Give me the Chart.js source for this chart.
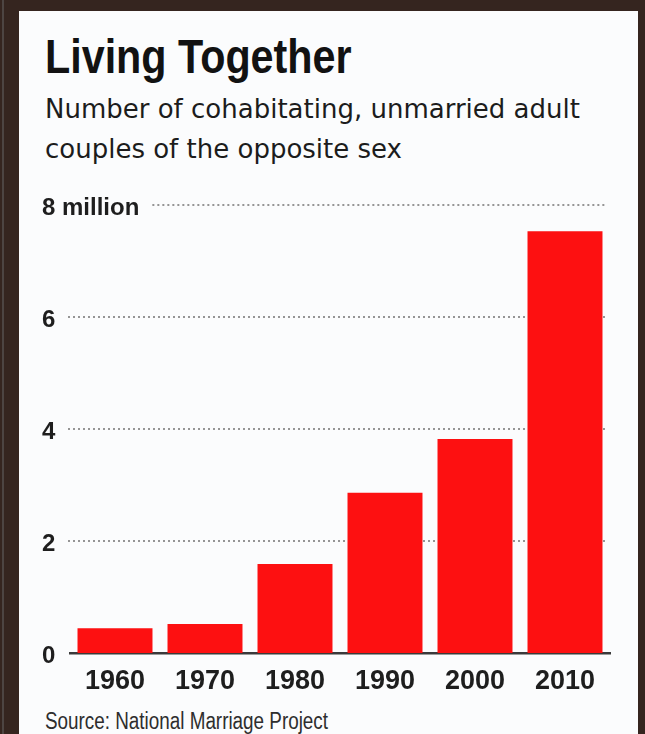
<!DOCTYPE html>
<html>
<head>
<meta charset="utf-8">
<script src="https://cdn.jsdelivr.net/npm/chart.js@4"></script>
<style>
  html, body { margin: 0; padding: 0; }
  body { width: 645px; height: 734px; background: #35251f; position: relative; overflow: hidden; }
  #edge { position: absolute; left: 2px; top: 0; width: 2px; height: 734px; background: #4d4542; }
  #panel { position: absolute; left: 19px; top: 11px; width: 619px; height: 723px; background: #fbfcfd; }
  .t { position: absolute; white-space: nowrap; margin: 0; transform-origin: 0 0; }
  #title { left: 45px; top: 33px; font: bold 48px "Liberation Sans", Arial, sans-serif; line-height: 48px; color: #121212; transform: scaleX(0.86); }
  #sub { left: 45px; top: 89px; font: 26px "DejaVu Sans", sans-serif; line-height: 40px; color: #1c1c1c; }
  #source { left: 45px; top: 710px; font: 23px "Liberation Sans", Arial, sans-serif; line-height: 23px; color: #2e2e2e; transform: scaleX(0.82); }
  canvas { position: absolute; left: 0; top: 180px; }
</style>
</head>
<body>
<div id="edge"></div>
<div id="panel"></div>
<div class="t" id="title">Living Together</div>
<div class="t" id="sub">Number of cohabitating, unmarried adult<br>couples of the opposite sex</div>
<div class="t" id="source">Source: National Marriage Project</div>
<canvas id="c" width="645" height="518"></canvas>
<script>
const years = ['1960', '1970', '1980', '1990', '2000', '2010'];
const couplesMillions = [0.44, 0.52, 1.59, 2.86, 3.82, 7.53];
const yTickValues = [0, 2, 4, 6, 8];
const yTickLabels = ['0', '2', '4', '6', '8 million'];

const yFont = { family: '"Liberation Sans", Arial, sans-serif', size: 24, weight: 'bold' };

const dottedGrid = {
  id: 'dottedGrid',
  beforeDatasetsDraw(chart) {
    const ctx = chart.ctx, ys = chart.scales.y, area = chart.chartArea;
    ctx.save();
    ctx.font = 'bold 24px "Liberation Sans", Arial, sans-serif';
    ctx.strokeStyle = '#959595';
    ctx.lineWidth = 2;
    ctx.setLineDash([2, 3]);
    yTickValues.forEach((v, i) => {
      if (v === 0) return;
      const py = Math.round(ys.getPixelForValue(v));
      let x0 = area.left - 2;
      if (i === yTickValues.length - 1) {
        x0 = ys.left + ctx.measureText(yTickLabels[i]).width + 13;
      }
      ctx.beginPath();
      ctx.moveTo(x0, py);
      ctx.lineTo(area.right - 5, py);
      ctx.stroke();
    });
    ctx.restore();
  }
};

new Chart(document.getElementById('c'), {
  type: 'bar',
  data: {
    labels: years,
    datasets: [{
      data: couplesMillions,
      backgroundColor: '#fd1011',
      borderWidth: 0,
      barPercentage: 0.833,
      categoryPercentage: 1.0
    }]
  },
  options: {
    responsive: false,
    animation: false,
    layout: { padding: { left: 42, right: 35, top: 25, bottom: 0 } },
    plugins: { legend: { display: false }, tooltip: { enabled: false }, title: { display: false } },
    scales: {
      x: {
        z: 1,
        grid: { display: false, drawTicks: false },
        border: { display: true, color: '#3a3a3a', width: 2.5 },
        ticks: {
          color: '#1e1e1e',
          padding: 12,
          font: { family: '"Liberation Sans", Arial, sans-serif', size: 27, weight: 'bold' }
        },
        afterFit(s) { s.height = 45; }
      },
      y: {
        min: 0,
        max: 8,
        afterBuildTicks(s) { s.ticks = yTickValues.map(v => ({ value: v })); },
        grid: { display: false, drawTicks: false },
        border: { display: false },
        ticks: {
          color: '#1e1e1e',
          mirror: true,
          padding: -28,
          labelOffset: 3,
          font: yFont,
          callback(v) { const i = yTickValues.indexOf(v); return i >= 0 ? yTickLabels[i] : ''; }
        },
        afterFit(s) { s.width = 28; }
      }
    }
  },
  plugins: [dottedGrid]
});
</script>
</body>
</html>
